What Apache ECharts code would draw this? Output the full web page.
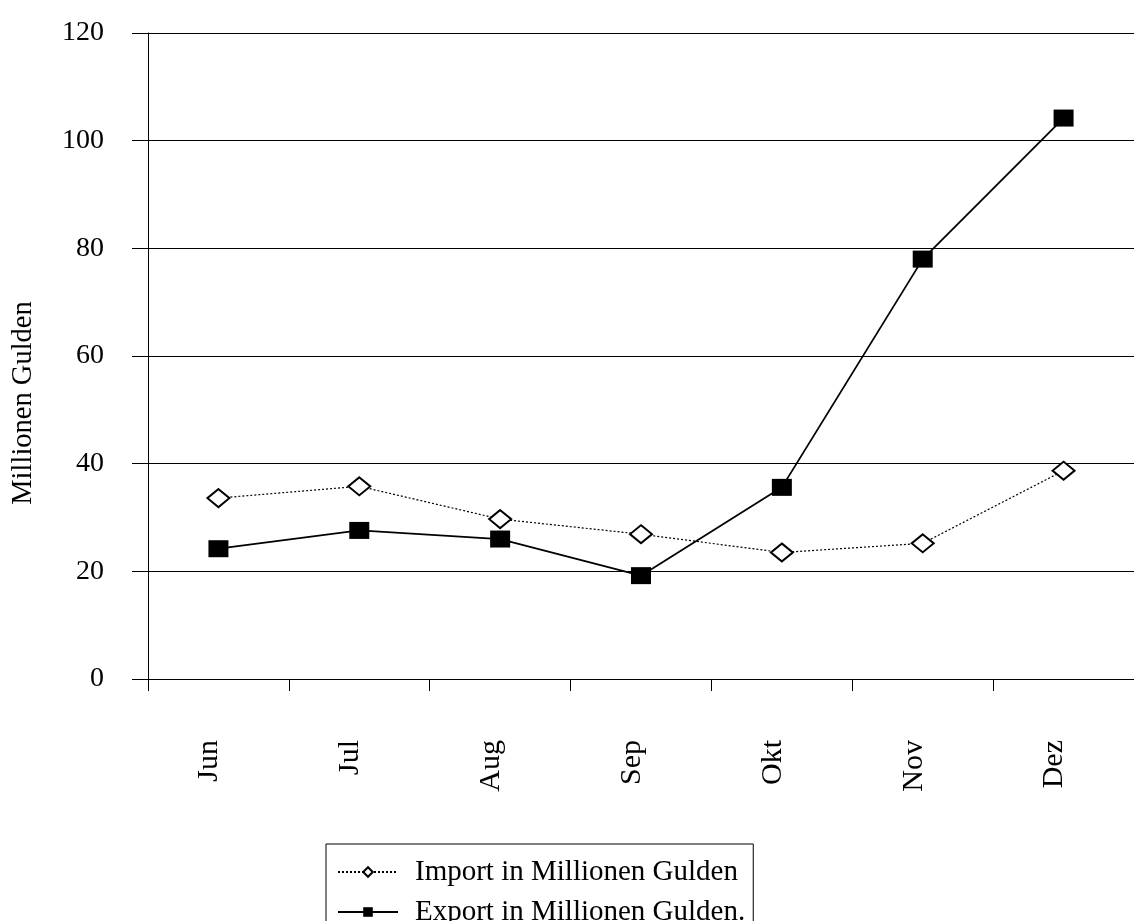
<!DOCTYPE html>
<html>
<head>
<meta charset="utf-8">
<script src="https://cdn.jsdelivr.net/npm/echarts@6/dist/echarts.min.js"></script>
<style>
  html, body { margin: 0; padding: 0; background: #fff; }
  #chart { width: 1134px; height: 921px; }
</style>
</head>
<body>
<div id="chart"></div>
<script>
// Monthly trade values, in millions of guilders
const months = ['Jun', 'Jul', 'Aug', 'Sep', 'Okt', 'Nov', 'Dez'];
const importValues = [33.6, 35.8, 29.7, 26.9, 23.5, 25.2, 38.7];
const exportValues = [24.2, 27.6, 26.0, 19.2, 35.6, 78.0, 104.2];
const yTicks = { min: 0, max: 120, interval: 20 };

const FONT = '"Liberation Serif", "Times New Roman", serif';

const chart = echarts.init(document.getElementById('chart'), null, { renderer: 'canvas' });

chart.setOption({
  animation: false,
  backgroundColor: '#ffffff',
  textStyle: { fontFamily: FONT, color: '#000' },
  grid: { left: 148, top: 33, width: 994, height: 646, containLabel: false },
  xAxis: {
    type: 'category',
    data: months,
    boundaryGap: true,
    axisLine: { show: true, lineStyle: { color: '#000', width: 1 } },
    axisTick: { show: true, length: 12, lineStyle: { color: '#000', width: 1 } },
    axisLabel: {
      rotate: 90,
      margin: 61,
      fontSize: 30,
      fontFamily: FONT,
      color: '#000',
      verticalAlign: 'bottom',
      lineHeight: 18
    },
    splitLine: { show: false }
  },
  yAxis: {
    type: 'value',
    min: yTicks.min,
    max: yTicks.max,
    interval: yTicks.interval,
    axisLine: { show: true, lineStyle: { color: '#000', width: 1 } },
    axisTick: { show: true, length: 16, lineStyle: { color: '#000', width: 1 } },
    axisLabel: { margin: 44, fontSize: 28, fontFamily: FONT, color: '#000' },
    splitLine: { show: true, lineStyle: { color: '#000', width: 1 } }
  },
  legend: {
    orient: 'vertical',
    left: 326,
    top: 844,
    height: 200,
    padding: [12, 8, 12, 11],
    itemGap: 8,
    itemWidth: 60,
    itemHeight: 12,
    borderColor: '#000',
    borderWidth: 1,
    backgroundColor: '#fff',
    textStyle: { fontSize: 29, fontFamily: FONT, color: '#000', lineHeight: 32, padding: [0, 0, 0, 12] },
    data: ['Import in Millionen Gulden', 'Export in Millionen Gulden.']
  },
  graphic: [{
    type: 'text',
    x: 24,
    y: 403,
    rotation: Math.PI / 2,
    style: {
      text: 'Millionen Gulden',
      fontSize: 28.5,
      fontFamily: FONT,
      fill: '#000',
      align: 'center',
      verticalAlign: 'middle'
    }
  }],
  series: [
    {
      name: 'Import in Millionen Gulden',
      type: 'line',
      data: importValues,
      symbol: 'diamond',
      symbolSize: [22, 18],
      showAllSymbol: true,
      lineStyle: { color: '#000', width: 1.2, type: [2, 2] },
      itemStyle: { color: '#fff', borderColor: '#000', borderWidth: 2 },
      z: 3
    },
    {
      name: 'Export in Millionen Gulden.',
      type: 'line',
      data: exportValues,
      symbol: 'rect',
      symbolSize: [20, 17],
      showAllSymbol: true,
      lineStyle: { color: '#000', width: 1.8, type: 'solid' },
      itemStyle: { color: '#000', borderColor: '#000', borderWidth: 0 },
      z: 4
    }
  ]
});
</script>
</body>
</html>
